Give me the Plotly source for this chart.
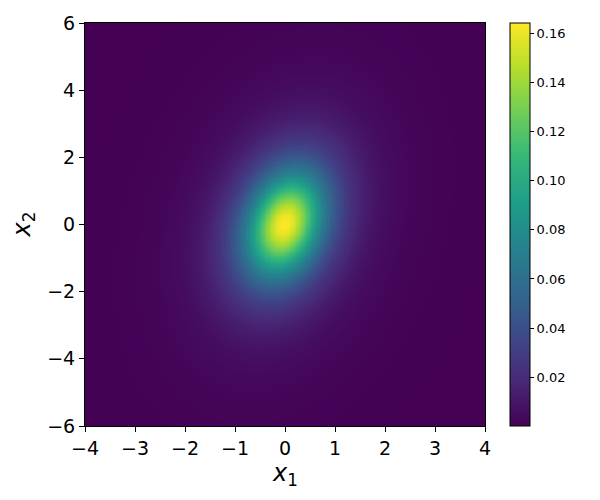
import numpy as np
import plotly.graph_objects as go

# grid of the two variables (axis ranges)
x1_range = [-4, 4]
x2_range = [-6, 6]
n_x1 = 320
n_x2 = 480

# bivariate student-t, parameters (peak ~0.164)
mean = [0.0, 0.0]
scale = [[0.5, 0.25],
         [0.25, 2.0]]
dof = 3.0

x1 = np.linspace(x1_range[0], x1_range[1], n_x1)
x2 = np.linspace(x2_range[0], x2_range[1], n_x2)
X1, X2 = np.meshgrid(x1, x2)

S = np.array(scale)
Sinv = np.linalg.inv(S)
d1 = X1 - mean[0]
d2 = X2 - mean[1]
q = Sinv[0, 0]*d1**2 + 2*Sinv[0, 1]*d1*d2 + Sinv[1, 1]*d2**2
dens = (1.0/(2*np.pi*np.sqrt(np.linalg.det(S)))) * (1 + q/dof)**(-(dof + 2)/2)

font = "DejaVu Sans"

fig = go.Figure(go.Heatmap(
    x=x1, y=x2, z=dens,
    colorscale="Viridis",
    zsmooth=False,
    colorbar=dict(
        thickness=20, len=1, lenmode="fraction",
        x=1.0625, xanchor="left", xpad=0, ypad=0,
        y=0.5, yanchor="middle",
        outlinewidth=1, outlinecolor="black",
        ticks="outside", ticklen=4, tickcolor="black",
        tickvals=[0.02, 0.04, 0.06, 0.08, 0.10, 0.12, 0.14, 0.16],
        tickformat=".2f",
        tickfont=dict(family=font, size=13, color="black"),
    ),
))

axis_style = dict(
    showline=True, linecolor="black", linewidth=1, mirror=True,
    ticks="outside", ticklen=5, tickcolor="black",
    showgrid=False, zeroline=False, automargin=False,
    tickfont=dict(family=font, size=19, color="black"),
)

fig.update_xaxes(range=x1_range, dtick=1, **axis_style)
fig.update_yaxes(range=x2_range, dtick=2, **axis_style)

# axis titles as annotations so they sit where the reference has them
title_font = dict(family=font, size=24, color="black")
fig.add_annotation(text="<i>x</i><sub>1</sub>", xref="paper", yref="paper",
                   x=0.5, y=0, xanchor="center", yanchor="middle",
                   yshift=-48, showarrow=False, font=title_font)
fig.add_annotation(text="<i>x</i><sub>2</sub>", xref="paper", yref="paper",
                   x=0, y=0.5, xanchor="center", yanchor="middle",
                   xshift=-62, textangle=-90, showarrow=False, font=title_font)

# page body adds an 8px margin, so the figure is 8px smaller on each axis
fig.update_layout(
    width=592, height=492,
    margin=dict(l=77, r=115, t=15, b=74),
    paper_bgcolor="white", plot_bgcolor="white",
)

fig.write_html("out.html")
